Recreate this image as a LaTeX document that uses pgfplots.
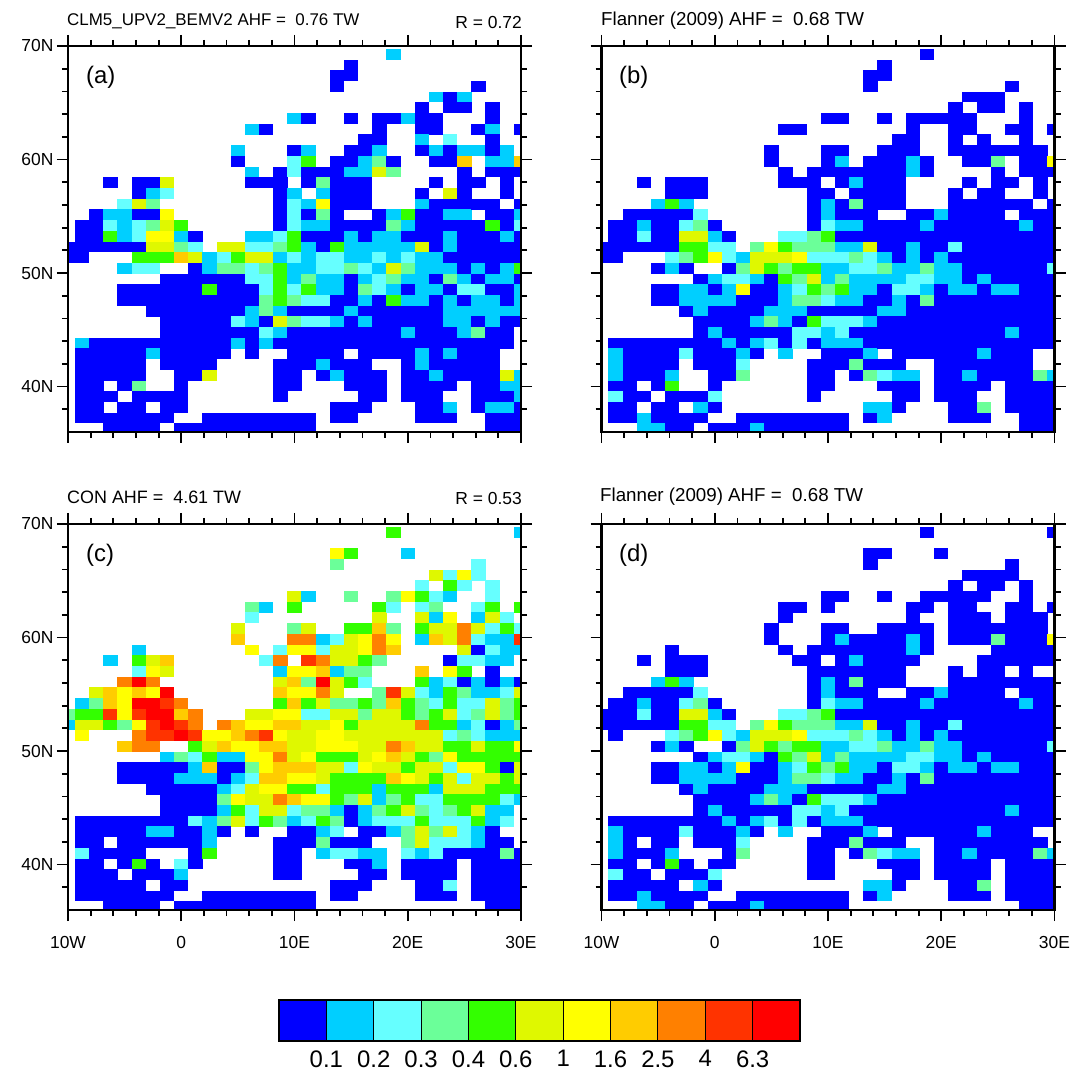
\documentclass[border=0pt]{standalone}
\usepackage{fontspec}
\setmainfont{Liberation Sans}
\usepackage{pgfplots}
\usepackage{pgfplotstable}
\pgfplotsset{compat=1.18}
\definecolor{c0}{HTML}{0000FF}
\definecolor{c1}{HTML}{00CFFF}
\definecolor{c2}{HTML}{66FFFF}
\definecolor{c3}{HTML}{6BFF99}
\definecolor{c4}{HTML}{33FF00}
\definecolor{c5}{HTML}{DFF800}
\definecolor{c6}{HTML}{FFFF00}
\definecolor{c7}{HTML}{FFCC00}
\definecolor{c8}{HTML}{FF8000}
\definecolor{c9}{HTML}{FF3300}
\definecolor{c10}{HTML}{FF0000}
\pgfdeclareplotmark{cell}{\pgfpathrectangle{\pgfqpoint{-7.2bp}{-5.42bp}}{\pgfqpoint{14.4bp}{10.84bp}}\pgfusepathqfill}
\pgfplotstableread[header=false]{
69.27 w w w w w w w w w w  w w w w w w w w w w  w w w 1 w w w w w w  w w w
68.32 w w w w w w w w w w  w w w w w w w w w w  0 w w w w w w w w w  w w w
67.38 w w w w w w w w w w  w w w w w w w w w 0  0 w w w w w w w w w  w w w
66.44 w w w w w w w w w w  w w w w w w w w w 0  w w w w w w w w w 0  w w w
65.50 w w w w w w w w w w  w w w w w w w w w w  w w w w w w 1 0 1 w  w w w
64.55 w w w w w w w w w w  w w w w w w w w w w  w w w w w 0 w 0 0 w  0 w w
63.61 w w w w w w w w w w  w w w w w w 1 0 w w  0 w 0 0 1 0 0 w w w  0 w w
62.67 w w w w w w w w w w  w w w 1 0 w w w w w  w w 0 w w 0 0 w w 0  1 w 0
61.73 w w w w w w w w w w  w w w w w w w w w w  w 0 0 w w 1 w 2 w w  0 w w
60.79 w w w w w w w w w w  w w 1 w w w 0 1 w w  0 0 1 w w 0 1 0 1 1  0 1 w
59.84 w w w w w w w w w w  w w 0 w w w 2 4 w 0  0 1 3 0 w w 0 0 7 w  1 1 7
58.90 w w w w w w w w w w  w w w 1 w 0 2 0 0 0  1 1 5 3 w w w w 0 w  0 0 0
57.96 w w w 0 w 0 0 5 w w  w w w 0 0 0 w 0 3 0  0 0 w w w w 0 w 0 0  w 0 w
57.02 w w w w w 0 1 2 w w  w w w w w 0 1 w 1 0  0 0 w w w 0 w 5 0 w  w 0 w
56.07 w w w w 2 5 3 w w w  w w w w w 0 2 1 6 0  0 0 w w w 1 0 0 0 0  0 w 0
55.13 w w 0 1 1 0 0 6 w w  w w w w w 0 2 0 3 0  w w 0 1 4 0 0 1 1 w  0 0 1
54.19 w 0 0 2 1 2 3 5 4 w  w w w w w 0 2 1 1 0  0 0 0 3 1 0 0 0 0 0  4 0 2
53.25 w 0 0 4 1 2 6 6 1 0  w w w 1 1 2 4 0 0 0  1 0 1 1 0 0 0 1 0 0  0 1 0
52.30 0 0 0 0 0 0 5 5 3 2  w 5 5 2 2 3 4 1 0 4  1 1 1 1 1 5 0 1 0 0  0 0 0
51.36 0 0 w w w 4 4 4 7 5  1 2 4 5 5 1 2 1 2 2  1 1 2 1 2 1 1 0 0 0  0 0 0
50.42 w w w w 1 2 2 w w 0  1 3 3 2 3 4 1 1 2 2  3 2 1 5 3 1 1 1 0 1  0 1 4
49.48 w w w w w w w 0 0 0  0 0 0 2 2 4 1 3 1 1  0 1 2 3 1 1 0 3 1 0  1 1 0
48.53 w w w w 0 0 0 0 0 0  4 0 0 0 2 4 2 4 1 1  0 3 2 1 0 1 1 0 2 2  0 0 1
47.59 w w w w 0 0 0 0 0 0  0 0 0 0 3 4 3 2 2 0  0 1 0 4 1 1 0 1 0 1  1 0 1
46.65 w w w w w w 0 0 0 0  0 0 0 1 3 1 0 0 0 0  1 0 0 0 0 0 0 1 1 1  1 1 1
45.71 w w w w w w w 0 0 0  0 0 2 1 0 5 3 2 2 1  0 1 0 0 0 0 0 1 1 0  1 0 0
44.77 w w w w w w w 0 0 0  0 0 0 0 2 1 0 0 0 0  0 0 0 0 1 0 0 0 1 3  0 0 w
43.82 w 1 0 0 0 0 0 0 0 0  0 0 1 0 1 0 0 0 0 0  0 0 0 0 0 0 0 0 0 0  0 0 w
42.88 w 0 0 0 0 0 1 0 0 0  0 0 w 0 w w 0 0 0 0  w 0 0 0 0 1 0 1 0 0  0 w w
41.94 w 0 0 0 0 0 w 0 0 0  0 w w w w 0 0 0 1 0  0 0 w w 0 1 0 0 0 0  0 w w
41.00 w 0 0 0 0 0 w w 0 0  5 w w w w 0 0 w 0 1  0 0 0 w 0 0 1 0 0 0  0 5 1
40.05 w 0 0 w 0 3 w w 0 w  w w w w w 0 0 w w w  0 0 0 w 0 0 0 0 w 0  0 1 1
39.11 w 0 0 0 w 0 0 0 0 w  w w w w w 0 w w w w  w 0 0 w 0 0 0 w w 0  0 0 1
38.17 w 0 0 w 0 0 w 0 0 w  w w w w w w w w w 0  0 0 w w w 0 0 1 w 0  1 1 0
37.23 w 0 0 0 0 0 0 0 w w  0 0 0 0 0 0 0 0 w 0  0 w w w w 0 0 0 w w  0 0 0
36.28 w w w 0 0 0 0 w 0 0  0 0 0 0 0 0 0 0 w w  w w w w w w w w w w  0 0 0
}\tabA
\pgfplotstableread[header=false]{
69.27 w w w w w w w w w w  w w w w w w w w w w  w w w 0 w w w w w w  w w w
68.32 w w w w w w w w w w  w w w w w w w w w w  0 w w w w w w w w w  w w w
67.38 w w w w w w w w w w  w w w w w w w w w 0  0 w w w w w w w w w  w w w
66.44 w w w w w w w w w w  w w w w w w w w w 0  w w w w w w w w w 0  w w w
65.50 w w w w w w w w w w  w w w w w w w w w w  w w w w w w 0 0 0 w  w w w
64.55 w w w w w w w w w w  w w w w w w w w w w  w w w w w 0 w 0 0 w  0 w w
63.61 w w w w w w w w w w  w w w w w w 0 0 w w  0 w 0 0 0 0 0 w w w  0 w w
62.67 w w w w w w w w w w  w w w 0 0 w w w w w  w w 0 w w 0 0 w w 0  0 w 0
61.73 w w w w w w w w w w  w w w w w w w w w w  w 0 0 w w 0 w 0 w w  0 w w
60.79 w w w w w w w w w w  w w 0 w w w 0 0 w w  0 0 0 w w 0 0 0 0 0  0 0 w
59.84 w w w w w w w w w w  w w 0 w w w 0 1 w 0  0 0 1 0 w w 0 0 3 w  0 0 6
58.90 w w w w w w w w w w  w w w 0 w 0 0 0 0 0  0 0 1 0 w w w w 0 w  0 0 0
57.96 w w w 0 w 0 0 0 w w  w w w 0 0 0 w 0 1 0  0 0 w w w w 0 w 0 0  w 0 w
57.02 w w w w w 0 0 0 w w  w w w w w 0 0 w 0 0  0 0 w w w 0 w 0 0 w  w 0 w
56.07 w w w w 1 4 1 w w w  w w w w w 0 1 0 3 0  0 0 w w w 0 0 0 0 0  0 w 0
55.13 w w 0 0 0 0 0 2 w w  w w w w w 0 1 0 0 0  w w 0 0 1 0 0 0 0 w  0 0 0
54.19 w 0 0 1 0 0 2 3 0 w  w w w w w 0 2 1 1 0  0 0 0 1 0 0 0 0 0 0  1 0 0
53.25 w 0 0 2 0 0 5 5 1 0  w w w 2 2 3 4 0 0 0  0 0 0 0 0 0 0 0 0 0  0 0 0
52.30 0 0 0 0 0 0 4 4 2 2  w 3 6 4 3 3 3 1 1 5  0 0 1 0 0 2 0 0 0 0  0 0 0
51.36 0 0 w w w 2 3 4 6 2  1 5 5 5 6 2 2 2 3 2  1 0 1 0 1 0 0 0 0 0  0 0 0
50.42 w w w w 0 1 0 w w 0  3 5 4 3 4 4 1 1 2 2  3 1 1 3 1 1 0 0 0 0  0 0 2
49.48 w w w w w w w 0 1 2  2 1 0 4 3 5 1 3 1 1  1 1 2 2 1 1 0 1 0 0  0 0 0
48.53 w w w w 0 0 1 1 0 1  6 0 0 1 2 4 3 4 1 1  0 2 2 1 0 1 1 0 1 1  0 0 0
47.59 w w w w 0 0 1 1 1 1  0 0 0 1 3 3 2 1 1 0  0 1 0 3 0 0 0 0 0 0  0 0 0
46.65 w w w w w w 0 1 0 0  0 0 1 1 1 0 0 0 0 0  1 1 0 0 0 0 0 0 0 0  0 0 0
45.71 w w w w w w w 0 0 0  0 1 3 1 0 4 2 2 2 1  0 0 0 0 0 0 0 0 0 0  0 0 0
44.77 w w w w w w w 0 1 0  0 0 0 0 2 2 1 2 0 0  0 0 0 0 0 0 0 0 0 1  0 0 0
43.82 w 0 0 0 0 0 0 0 0 1  0 1 2 0 2 0 1 1 1 0  0 0 0 0 0 0 0 0 0 0  0 0 0
42.88 w 1 0 0 0 0 2 0 0 0  1 0 w 1 w w 0 0 0 1  w 0 0 0 0 0 0 1 0 0  0 w w
41.94 w 1 0 0 0 0 w 0 0 0  2 w w w w 0 0 0 3 0  0 0 w w 0 0 0 0 0 0  0 w w
41.00 w 1 0 0 0 1 w w 0 0  3 w w w w 0 0 w 0 3  2 1 1 w 0 0 1 0 0 0  0 3 1
40.05 w 0 0 w 0 4 w w 0 w  w w w w w 0 0 w w w  0 0 0 w 0 0 0 0 w 0  0 0 0
39.11 w 2 0 0 w 0 0 0 2 w  w w w w w 0 w w w w  w 0 0 w 0 0 0 w w 0  0 0 0
38.17 w 0 0 w 0 0 w 1 0 w  w w w w w w w w w 1  1 0 w w w 0 0 3 w 0  0 0 0
37.23 w 0 0 1 0 0 0 0 w w  0 0 0 0 0 0 0 0 w 0  1 w w w w 0 0 0 w w  0 0 0
36.28 w w w 1 1 0 0 w 0 0  0 1 0 0 0 0 0 0 w w  w w w w w w w w w w  0 0 0
}\tabB
\pgfplotstableread[header=false]{
69.27 w w w w w w w w w w  w w w w w w w w w w  w w w 4 w w w w w w  w w 1
68.32 w w w w w w w w w w  w w w w w w w w w w  w w w w w w w w w w  w w w
67.38 w w w w w w w w w w  w w w w w w w w w 6  4 w w w 1 w w w w w  w w w
66.44 w w w w w w w w w w  w w w w w w w w w 3  w w w w w w w w w 2  w w w
65.50 w w w w w w w w w w  w w w w w w w w w w  w w w w w w 5 2 6 2  w w w
64.55 w w w w w w w w w w  w w w w w w w w w w  w w w w w 2 w 4 2 w  2 w w
63.61 w w w w w w w w w w  w w w w w w 5 1 w w  3 w w 3 6 4 2 1 w w  2 w w
62.67 w w w w w w w w w w  w w w 3 1 w 4 w w w  w w 4 2 w 2 3 w w 2  4 w 4
61.73 w w w w w w w w w w  w w w 2 w w w w w w  w w 5 w w 5 1 6 w 1  5 2 w
60.79 w w w w w w w w w w  w w 5 w w w 3 5 w w  4 4 7 3 w 4 5 5 8 5  2 4 2
59.84 w w w w w w w w w w  w w 7 w w w 8 8 1 2  5 6 8 6 w 1 7 5 8 2  1 1 9
58.90 w w w w w 1 w w w w  w w w 6 w 2 6 6 2 5  5 6 8 7 w w w w 5 0  2 1 1
57.96 w w w 1 w 4 5 7 w w  w w w w 2 8 w 9 8 5  5 4 3 w w w w 0 2 2  1 1 w
57.02 w w w w w 2 6 5 w w  w w w w w 1 6 6 7 1  3 3 w w w 7 w 6 4 w  0 w w
56.07 w w w w 8 a 8 w w w  w w w w w 5 7 3 a 5  4 2 w w w 4 1 2 0 1  0 1 0
55.13 w w 5 7 6 7 6 a w w  w w w w w 7 6 6 8 5  w w 3 9 5 2 1 4 3 1  1 2 5
54.19 w 1 3 7 6 a a 9 8 w  w w w w w 4 7 4 5 3  3 4 3 7 4 3 2 4 2 2  5 3 4
53.25 3 4 4 9 6 9 a a 7 8  w w w 5 5 6 6 2 2 5  5 3 5 5 4 3 4 5 2 3  5 3 4
52.30 1 5 5 4 3 6 9 a 9 8  w 8 7 6 6 7 7 5 5 6  4 5 5 5 5 8 4 4 1 2  0 1 3
51.36 w 6 w w w 8 9 9 a 9  6 6 7 8 9 6 5 5 6 6  5 5 5 5 5 5 5 2 3 2  1 1 1
50.42 w w w w 7 8 8 w w 4  5 7 6 6 7 7 5 5 6 6  6 5 5 8 7 5 5 4 4 5  4 4 6
49.48 w w w w w w w 1 3 2  4 1 1 6 6 8 5 6 4 4  4 5 6 7 5 4 3 6 4 4  4 4 4
48.53 w w w w 0 0 0 0 0 1  7 0 0 3 6 7 7 7 5 5  2 6 5 5 4 5 5 2 6 6  4 0 5
47.59 w w w w 0 0 0 0 1 1  1 0 1 2 7 7 6 6 5 4  4 4 4 7 6 5 4 5 2 5  5 4 5
46.65 w w w w w w 0 0 0 0  0 1 2 5 6 6 4 4 2 4  4 4 1 4 4 4 1 5 5 5  4 4 4
45.71 w w w w w w w 0 0 0  0 3 6 5 5 8 7 6 6 4  3 5 1 3 4 2 2 4 4 4  4 2 1
44.77 w w w w w w w 0 0 0  0 1 4 2 5 5 2 3 3 1  0 1 3 4 5 3 2 3 4 5  1 1 w
43.82 w 0 0 0 0 0 0 0 0 2  1 3 5 2 4 3 1 2 4 3  0 1 2 2 2 4 2 2 2 4  1 2 w
42.88 w 0 0 0 0 0 1 1 0 0  1 0 w 0 w w 0 0 1 2  w 0 0 1 3 5 3 5 2 1  0 w w
41.94 w 0 0 w 0 0 0 0 0 0  1 w w w w 0 0 0 3 0  0 0 w w 3 5 2 2 2 1  0 0 w
41.00 w 2 0 0 0 0 w w w 0  4 w w w w 0 0 w 1 2  2 1 1 w 2 1 2 0 0 0  0 3 0
40.05 w 0 0 w 0 4 0 w 2 0  w w w w w 0 0 w w w  0 0 1 w 0 0 0 0 w 0  0 0 0
39.11 w 0 0 0 w 0 0 0 1 w  w w w w w 0 0 w w w  w 0 0 w 0 0 0 0 w 0  0 0 0
38.17 w 0 0 0 0 0 w 0 0 w  w w w w w w w w w 0  0 0 w w w 0 0 2 w 0  0 0 0
37.23 w 0 0 0 0 0 0 0 w w  0 0 0 0 0 0 0 0 w 0  0 w w w w 0 0 0 w 0  0 0 0
36.28 w w w 0 0 0 0 w 0 0  0 0 0 0 0 0 0 0 w w  w w w w w w w w w w  0 0 0
}\tabC
\pgfplotstableread[header=false]{
69.27 w w w w w w w w w w  w w w w w w w w w w  w w w 0 w w w w w w  w w 0
68.32 w w w w w w w w w w  w w w w w w w w w w  w w w w w w w w w w  w w w
67.38 w w w w w w w w w w  w w w w w w w w w 0  0 w w w 0 w w w w w  w w w
66.44 w w w w w w w w w w  w w w w w w w w w 0  w w w w w w w w w 0  w w w
65.50 w w w w w w w w w w  w w w w w w w w w w  w w w w w w 0 0 0 0  w w w
64.55 w w w w w w w w w w  w w w w w w w w w w  w w w w w 0 w 0 0 w  0 w w
63.61 w w w w w w w w w w  w w w w w w 0 0 w w  0 w w 0 0 0 0 0 w w  0 w w
62.67 w w w w w w w w w w  w w w 0 0 w 0 w w w  w w 0 0 w 0 0 w w 0  0 w 0
61.73 w w w w w w w w w w  w w w 0 w w w w w w  w w 0 w w 0 0 0 w 0  0 0 w
60.79 w w w w w w w w w w  w w 0 w w w 0 0 w w  0 0 0 0 w 0 0 0 0 0  0 0 w
59.84 w w w w w w w w w w  w w 0 w w w 0 1 0 0  0 0 1 0 w 0 0 0 3 0  0 0 6
58.90 w w w w w 0 w w w w  w w w 0 w 0 0 0 0 0  0 0 1 0 w w w w 0 0  0 0 0
57.96 w w w 0 w 0 0 0 w w  w w w w 0 0 w 0 1 0  0 0 0 w w w w 0 0 0  0 0 0
57.02 w w w w w 0 0 0 w w  w w w w w 0 0 0 0 0  0 0 w w w 0 w 0 0 w  0 w w
56.07 w w w w 1 4 1 w w w  w w w w w 0 1 0 3 0  0 0 w w w 0 0 0 0 0  0 0 0
55.13 w w 0 0 0 0 0 2 w w  w w w w w 0 1 0 0 0  w w 0 0 1 0 0 0 0 w  0 0 0
54.19 w 0 0 1 0 0 2 3 0 w  w w w w w 0 2 1 1 0  0 0 0 1 0 0 0 0 0 0  1 0 0
53.25 0 0 0 2 0 0 5 5 1 0  w w w 2 2 3 4 0 0 0  0 0 0 0 0 0 0 0 0 0  0 0 0
52.30 0 0 0 0 0 0 4 4 2 2  w 3 6 4 3 3 3 1 1 5  0 0 1 0 0 2 0 0 0 0  0 0 0
51.36 w 0 w w w 2 3 4 6 2  1 5 5 5 6 2 2 2 3 2  1 0 1 0 1 0 0 0 0 0  0 0 0
50.42 w w w w 0 1 0 w w 0  3 5 4 3 4 4 1 1 2 2  3 1 1 3 1 1 0 0 0 0  0 0 2
49.48 w w w w w w w 0 1 2  2 1 0 4 3 5 1 3 1 1  1 1 2 2 1 1 0 1 0 0  0 0 0
48.53 w w w w 0 0 1 1 0 1  6 0 0 1 2 4 3 4 1 1  0 2 2 1 0 1 1 0 1 1  0 0 0
47.59 w w w w 0 0 1 1 1 1  0 0 0 1 3 3 2 1 1 0  0 1 0 3 0 0 0 0 0 0  0 0 0
46.65 w w w w w w 0 1 0 0  0 0 1 1 1 0 0 0 0 0  1 1 0 0 0 0 0 0 0 0  0 0 0
45.71 w w w w w w w 0 0 0  0 1 3 1 0 4 2 2 2 1  0 0 0 0 0 0 0 0 0 0  0 0 0
44.77 w w w w w w w 0 1 0  0 0 0 0 2 2 1 2 0 0  0 0 0 0 0 0 0 0 0 1  0 0 0
43.82 w 0 0 0 0 0 0 0 0 1  0 1 2 0 2 0 1 1 1 0  0 0 0 0 0 0 0 0 0 0  0 0 0
42.88 w 1 0 0 0 0 2 0 0 0  1 0 w 1 w w 0 0 0 1  w 0 0 0 0 0 0 1 0 0  0 w w
41.94 w 1 0 w 0 0 w 0 0 0  2 w w w w 0 0 0 3 0  0 0 w w 0 0 0 0 0 0  0 0 w
41.00 w 1 0 0 0 1 w w w 0  3 w w w w 0 0 w 0 3  2 1 1 w 0 0 1 0 0 0  0 3 1
40.05 w 0 0 w 0 4 0 w 0 0  w w w w w 0 0 w w w  0 0 0 w 0 0 0 0 w 0  0 0 0
39.11 w 2 0 0 w 0 0 0 2 w  w w w w w 0 0 w w w  w 0 0 w 0 0 0 0 w 0  0 0 0
38.17 w 0 0 0 0 0 w 1 0 w  w w w w w w w w w 1  1 0 w w w 0 0 3 w 0  0 0 0
37.23 w 0 0 1 0 0 0 0 w w  0 0 0 0 0 0 0 0 w 0  1 w w w w 0 0 0 w 0  0 0 0
36.28 w w w 1 1 0 0 w 0 0  0 1 0 0 0 0 0 0 w w  w w w w w w w w w w  0 0 0
}\tabD
\pgfplotsset{
 cellplot/.style={only marks,scatter,point meta=explicit symbolic,
  scatter/classes={w={mark=none},
   0={mark=cell,c0},1={mark=cell,c1},2={mark=cell,c2},3={mark=cell,c3},
   4={mark=cell,c4},5={mark=cell,c5},6={mark=cell,c6},7={mark=cell,c7},
   8={mark=cell,c8},9={mark=cell,c9},a={mark=cell,c10}}},
 panel/.style={anchor=south west,scale only axis,width=453bp,height=386bp,
  xmin=-10,xmax=30,ymin=36,ymax=70,axis on top,
  xtick={-10,0,10,20,30},ytick={40,50,60,70},
  minor xtick={-8,-6,-4,-2,2,4,6,8,12,14,16,18,22,24,26,28},
  minor ytick={38,42,44,46,48,52,54,56,58,62,64,66,68},
  tick align=outside,xtick pos=both,ytick pos=both,
  xticklabel pos=lower,yticklabel pos=left,
  major tick length=11bp,minor tick length=6bp,
  axis line style={line width=2.4bp},
  every tick/.style={black,line width=1.8bp},
  tick label style={font=\fontsize{17.5}{20}\selectfont},
  xticklabel style={yshift=-12bp},
  xticklabels={},yticklabels={},
  clip=true,clip marker paths=true},
 xl/.style={xticklabels={10W,0,10E,20E,30E}},
 yl/.style={yticklabels={40N,50N,60N,70N}}
}
\newcommand\cells[1]{\pgfplotsinvokeforeach{1,...,33}{\addplot[cellplot] table[x expr={-10+1.25*(##1-1)},y index=0,meta index=##1]{#1};}}
\newcommand\ttl[4]{\node[anchor=base west,inner sep=0pt,font=\fontsize{#4}{20}\selectfont] at (#1bp,#2bp) {#3};}
\newcommand\ttr[4]{\node[anchor=base east,inner sep=0pt,font=\fontsize{#4}{20}\selectfont] at (#1bp,#2bp) {#3};}
\newcommand\plab[3]{\node[anchor=base west,inner sep=0pt,font=\fontsize{24}{28}\selectfont] at (#1bp,#2bp) {#3};}
\begin{document}
\begin{tikzpicture}[x=1bp,y=1bp]
\useasboundingbox (0,0) rectangle (1073bp,1072bp);
\begin{axis}[panel,yl,at={(68bp,640bp)}]
\cells{\tabA}
\end{axis}
\begin{axis}[panel,at={(601.5bp,640bp)}]
\cells{\tabB}
\end{axis}
\begin{axis}[panel,xl,yl,at={(68bp,162bp)}]
\cells{\tabC}
\end{axis}
\begin{axis}[panel,xl,at={(601.5bp,162bp)}]
\cells{\tabD}
\end{axis}
\begin{axis}[anchor=south west,at={(279bp,31bp)},scale only axis,width=521bp,height=41bp,
  xmin=0,xmax=11,ymin=0,ymax=1,ytick=\empty,xtick={1,...,10},
  xticklabels={0.1,0.2,0.3,0.4,0.6,1,1.6,2.5,4,6.3},
  major tick length=0pt,axis line style={line width=1.2bp},axis on top,
  tick label style={font=\fontsize{24}{28}\selectfont},
  xticklabel style={yshift=-6bp}]
\addplot[fill=c0,draw=black,line width=1bp] coordinates {(0,0)(0,1)(1,1)(1,0)} -- cycle;
\addplot[fill=c1,draw=black,line width=1bp] coordinates {(1,0)(1,1)(2,1)(2,0)} -- cycle;
\addplot[fill=c2,draw=black,line width=1bp] coordinates {(2,0)(2,1)(3,1)(3,0)} -- cycle;
\addplot[fill=c3,draw=black,line width=1bp] coordinates {(3,0)(3,1)(4,1)(4,0)} -- cycle;
\addplot[fill=c4,draw=black,line width=1bp] coordinates {(4,0)(4,1)(5,1)(5,0)} -- cycle;
\addplot[fill=c5,draw=black,line width=1bp] coordinates {(5,0)(5,1)(6,1)(6,0)} -- cycle;
\addplot[fill=c6,draw=black,line width=1bp] coordinates {(6,0)(6,1)(7,1)(7,0)} -- cycle;
\addplot[fill=c7,draw=black,line width=1bp] coordinates {(7,0)(7,1)(8,1)(8,0)} -- cycle;
\addplot[fill=c8,draw=black,line width=1bp] coordinates {(8,0)(8,1)(9,1)(9,0)} -- cycle;
\addplot[fill=c9,draw=black,line width=1bp] coordinates {(9,0)(9,1)(10,1)(10,0)} -- cycle;
\addplot[fill=c10,draw=black,line width=1bp] coordinates {(10,0)(10,1)(11,1)(11,0)} -- cycle;
\end{axis}
\ttl{67}{1046}{CLM5\_UPV2\_BEMV2 AHF =\ \ 0.76 TW}{17}
\ttr{522}{1043}{R = 0.72}{17.5}
\ttl{601}{1046}{Flanner (2009) AHF =\ \ 0.68 TW}{18.8}
\ttl{67}{568}{CON AHF =\ \ 4.61 TW}{18}
\ttr{522}{567}{R = 0.53}{17.5}
\ttl{600}{570}{Flanner (2009) AHF =\ \ 0.68 TW}{18.8}
\plab{86}{988}{(a)}
\plab{619}{988}{(b)}
\plab{86}{510}{(c)}
\plab{619}{510}{(d)}
\end{tikzpicture}
\end{document}
